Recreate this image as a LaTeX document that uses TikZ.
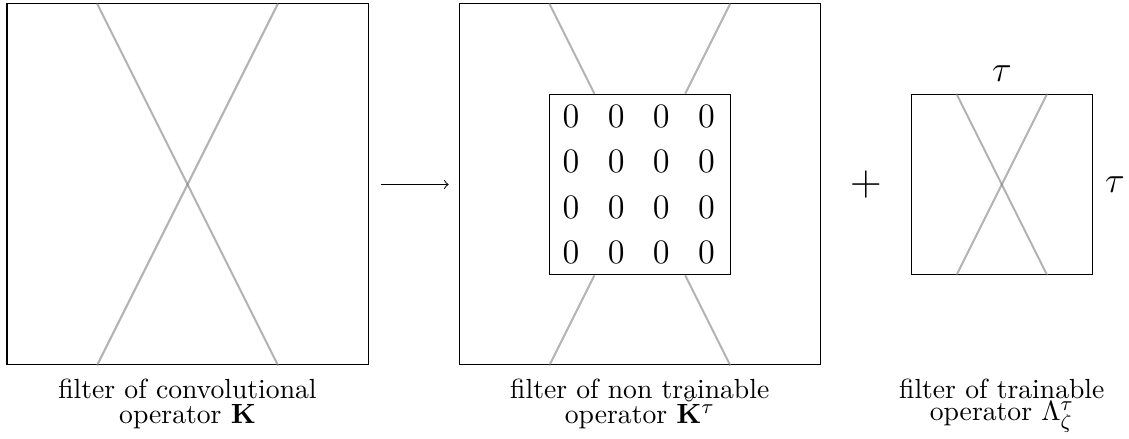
\documentclass[tikz,border=0pt]{standalone}
\usepackage{amsmath}
\usetikzlibrary{positioning}
\usetikzlibrary{calc}
\tikzset{
    filt/.style={
    draw,
    inner sep=0pt,
    minimum size=5cm
    },
    part/.style={
    draw,
    inner sep=0pt,
    minimum size=2.5cm
    },
    cross/.style={
    gray,
    opacity=0.6,
    line width=0.8pt
    },
    zero/.style={
    font=\fontsize{13.5}{16}\selectfont
    },
    lbl/.style={
    align=center,
    font=\fontsize{10.9}{10}\selectfont
    }
}

\begin{document}
\begin{tikzpicture}
\useasboundingbox (-0.097,-1.025) rectangle (15.54,5.055);

\node [filt](kconv) at (2.5,2.5) {};
\node [filt, right=1.25cm of kconv](knt) {};
\node [part](hole) at (knt) {};
\node [part, right=1.25cm of knt](lam) {};

\draw[cross] ($(kconv.north west)!0.25!(kconv.north east)$) -- ($(kconv.south west)!0.75!(kconv.south east)$);
\draw[cross] ($(kconv.north west)!0.75!(kconv.north east)$) -- ($(kconv.south west)!0.25!(kconv.south east)$);

\draw[cross] ($(knt.north west)!0.25!(knt.north east)$) -- ($(hole.north west)!0.25!(hole.north east)$);
\draw[cross] ($(knt.north west)!0.75!(knt.north east)$) -- ($(hole.north west)!0.75!(hole.north east)$);
\draw[cross] ($(hole.south west)!0.25!(hole.south east)$) -- ($(knt.south west)!0.25!(knt.south east)$);
\draw[cross] ($(hole.south west)!0.75!(hole.south east)$) -- ($(knt.south west)!0.75!(knt.south east)$);

\draw[cross] ($(lam.north west)!0.25!(lam.north east)$) -- ($(lam.south west)!0.75!(lam.south east)$);
\draw[cross] ($(lam.north west)!0.75!(lam.north east)$) -- ($(lam.south west)!0.25!(lam.south east)$);

\node [zero](z11) at (7.8125,3.4375) {0};
\node [zero](z12) at (8.4375,3.4375) {0};
\node [zero](z13) at (9.0625,3.4375) {0};
\node [zero](z14) at (9.6875,3.4375) {0};
\node [zero](z21) at (7.8125,2.8125) {0};
\node [zero](z22) at (8.4375,2.8125) {0};
\node [zero](z23) at (9.0625,2.8125) {0};
\node [zero](z24) at (9.6875,2.8125) {0};
\node [zero](z31) at (7.8125,2.1875) {0};
\node [zero](z32) at (8.4375,2.1875) {0};
\node [zero](z33) at (9.0625,2.1875) {0};
\node [zero](z34) at (9.6875,2.1875) {0};
\node [zero](z41) at (7.8125,1.5625) {0};
\node [zero](z42) at (8.4375,1.5625) {0};
\node [zero](z43) at (9.0625,1.5625) {0};
\node [zero](z44) at (9.6875,1.5625) {0};

\draw[->, shorten <=0.17cm, shorten >=0.14cm] (kconv) -- (knt);
\path (knt.east) -- (lam.west) node[pos=0.5, font=\fontsize{18}{20}\selectfont](plus){$+$};

\node [zero, above=0.5mm of lam](tautop) {$\tau$};
\node [zero, right=0.5mm of lam](tauside) {$\tau$};

\coordinate (lamfoot) at (lam.south |- kconv.south);
\node [lbl, below=0.6mm of kconv](lconv) {filter of convolutional\\operator $\mathbf{K}$};
\node [lbl, below=0.6mm of knt](lnt) {filter of non trainable\\operator $\smash{\breve{\mathbf{K}}^{\tau}}$};
\node [lbl, below=0.6mm of lamfoot](llam) {filter of trainable\\[-1.3pt]operator $\Lambda_{\zeta}^{\tau}$};

\end{tikzpicture}
\end{document}
